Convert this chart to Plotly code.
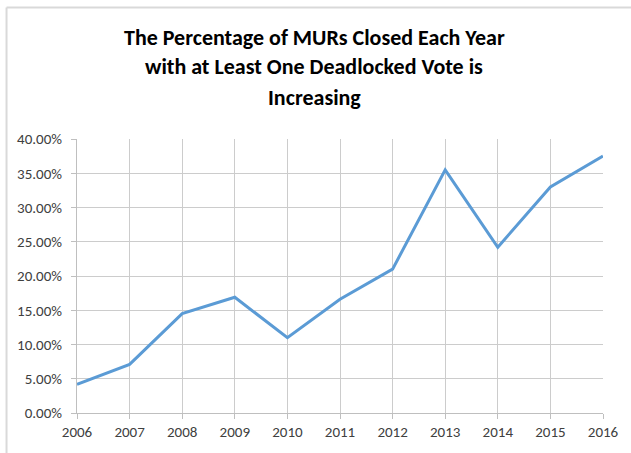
import plotly.graph_objects as go

years = [2006, 2007, 2008, 2009, 2010, 2011, 2012, 2013, 2014, 2015, 2016]
pct = [0.042, 0.071, 0.145, 0.169, 0.110, 0.166, 0.210, 0.355, 0.242, 0.330, 0.375]
y_ticks = [0, 0.05, 0.10, 0.15, 0.20, 0.25, 0.30, 0.35, 0.40]
title_lines = ["The Percentage of MURs Closed Each Year",
               "with at Least One Deadlocked Vote is",
               "Increasing"]

fig = go.Figure()
fig.add_trace(go.Scatter(x=years, y=pct, mode="lines",
                         line=dict(color="#5B9BD5", width=3)))

W, H = 631, 453
ml, mr, mt, mb = 77, 24, 139, 37
pw = W - ml - mr
ph = H - mt - mb

fig.update_layout(
    width=W, height=H,
    margin=dict(l=ml, r=mr, t=mt, b=mb),
    paper_bgcolor="white", plot_bgcolor="white",
    showlegend=False,
    font=dict(family="Carlito, Lato, Liberation Sans", size=15, color="#404040"),
    xaxis=dict(range=[2006, 2016], tickmode="array", tickvals=years,
               ticktext=[str(y) for y in years],
               showgrid=True, gridcolor="#CCCCCC", gridwidth=1,
               showline=True, linecolor="#BFBFBF", linewidth=1,
               ticks="outside", ticklen=5, tickcolor="#BFBFBF",
               zeroline=False, fixedrange=True),
    yaxis=dict(range=[0, 0.40], tickmode="array", tickvals=y_ticks,
               tickformat=".2%",
               showgrid=True, gridcolor="#CCCCCC", gridwidth=1,
               showline=True, linecolor="#BFBFBF", linewidth=1,
               ticks="outside", ticklen=5, tickcolor="#BFBFBF",
               ticklabelstandoff=6,
               zeroline=False, fixedrange=True),
)

# title lines as centred annotations
centers_px = [36, 66, 97]
for line, cy in zip(title_lines, centers_px):
    fig.add_annotation(text="<b>" + line + "</b>", xref="paper", yref="paper",
                       x=(316 - ml) / pw, y=1 + (mt - cy) / ph,
                       xanchor="center", yanchor="middle", showarrow=False,
                       font=dict(family="Carlito, Lato, Open Sans", size=22, color="black"))

# outer chart border (left and top visible)
x0 = (6 - ml) / pw
y1 = 1 + (mt - 6) / ph
fig.add_shape(type="line", xref="paper", yref="paper", x0=x0, x1=x0, y0=-1, y1=y1,
              line=dict(color="#D9D9D9", width=2))
fig.add_shape(type="line", xref="paper", yref="paper", x0=x0, x1=2, y0=y1, y1=y1,
              line=dict(color="#D9D9D9", width=2))

fig.write_html("out.html", config={"displayModeBar": False},
               post_script="document.body.style.margin='0';")
